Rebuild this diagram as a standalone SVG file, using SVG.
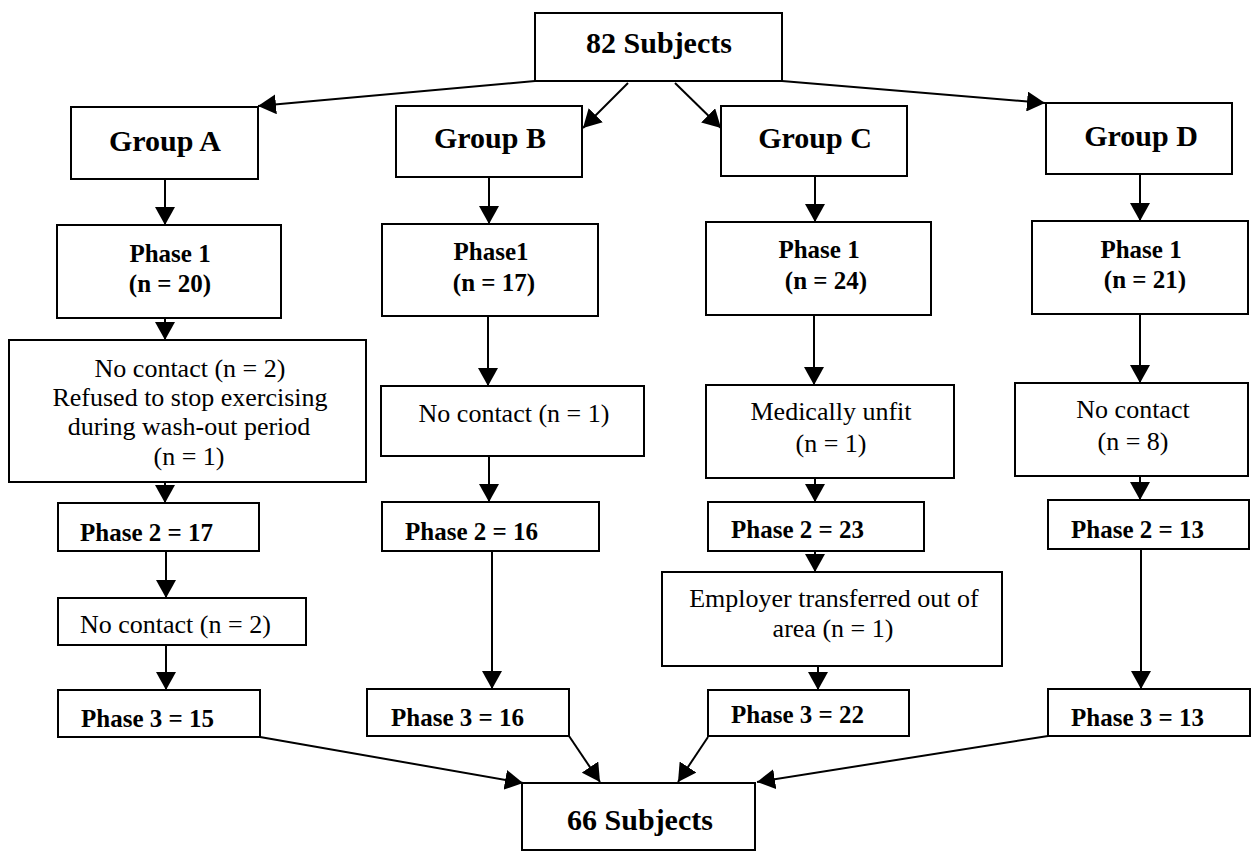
<svg xmlns="http://www.w3.org/2000/svg" width="1252" height="854" viewBox="0 0 1252 854">
<style>
.box{fill:#fff;stroke:#000;stroke-width:2}
.big{font-family:"Liberation Serif","Times New Roman",serif;font-weight:bold;font-size:30px;fill:#000;text-anchor:middle}
.ph{font-family:"Liberation Serif","Times New Roman",serif;font-weight:bold;font-size:25px;fill:#000}
.mid{text-anchor:middle}
.reg{font-family:"Liberation Serif","Times New Roman",serif;font-size:26px;fill:#000;text-anchor:middle}
.con line{stroke:#000;stroke-width:2;marker-end:url(#ah)}
</style>
<defs>
<marker id="ah" viewBox="0 0 18 20" refX="18" refY="10" markerWidth="18" markerHeight="20" markerUnits="userSpaceOnUse" orient="auto">
<path d="M0,0 L18,10 L0,20 z" fill="#000"/>
</marker>
</defs>
<rect width="1252" height="854" fill="#fff"/>
<g id="connectors" class="con">
<line x1="535" y1="81" x2="258" y2="106"/>
<line x1="628" y1="83" x2="583" y2="128"/>
<line x1="675" y1="83" x2="721" y2="128"/>
<line x1="782" y1="81" x2="1045" y2="103"/>
<line x1="165" y1="179" x2="165" y2="225"/>
<line x1="489" y1="177" x2="489" y2="224"/>
<line x1="815" y1="176" x2="815" y2="222"/>
<line x1="1140" y1="174" x2="1140" y2="221"/>
<line x1="165" y1="318" x2="165" y2="340"/>
<line x1="165" y1="482" x2="165" y2="503"/>
<line x1="166" y1="551" x2="166" y2="598"/>
<line x1="166" y1="645" x2="166" y2="690"/>
<line x1="488" y1="316" x2="488" y2="386"/>
<line x1="489" y1="456" x2="489" y2="502"/>
<line x1="492" y1="551" x2="492" y2="689"/>
<line x1="814" y1="315" x2="814" y2="385"/>
<line x1="815" y1="478" x2="815" y2="502"/>
<line x1="815" y1="551" x2="815" y2="572"/>
<line x1="818" y1="666" x2="818" y2="690"/>
<line x1="1140" y1="314" x2="1140" y2="383"/>
<line x1="1140" y1="476" x2="1140" y2="500"/>
<line x1="1141" y1="549" x2="1141" y2="689"/>
<line x1="260" y1="737" x2="523" y2="783"/>
<line x1="569" y1="736" x2="600" y2="782"/>
<line x1="708" y1="737" x2="678" y2="782"/>
<line x1="1048" y1="736" x2="757" y2="782"/>
</g>
<g id="n82"><rect class="box" x="535" y="13" width="247" height="68"/><text class="big" x="659" y="53">82 Subjects</text></g>
<g id="gA"><rect class="box" x="71" y="107" width="187" height="72"/><text class="big" x="165" y="151">Group A</text></g>
<g id="gB"><rect class="box" x="396" y="106" width="186" height="71"/><text class="big" x="490" y="148">Group B</text></g>
<g id="gC"><rect class="box" x="721" y="106" width="186" height="70"/><text class="big" x="815" y="148">Group C</text></g>
<g id="gD"><rect class="box" x="1046" y="103" width="186" height="71"/><text class="big" x="1141" y="146">Group D</text></g>
<g id="p1A"><rect class="box" x="57" y="225" width="224" height="93"/><text class="ph mid" x="170" y="262">Phase 1</text><text class="ph mid" x="170" y="292">(n = 20)</text></g>
<g id="p1B"><rect class="box" x="382" y="224" width="216" height="92"/><text class="ph mid" x="491" y="260">Phase1</text><text class="ph mid" x="494" y="291">(n = 17)</text></g>
<g id="p1C"><rect class="box" x="706" y="222" width="225" height="93"/><text class="ph mid" x="819" y="258">Phase 1</text><text class="ph mid" x="826" y="289">(n = 24)</text></g>
<g id="p1D"><rect class="box" x="1032" y="221" width="216" height="93"/><text class="ph mid" x="1141" y="258">Phase 1</text><text class="ph mid" x="1145" y="288">(n = 21)</text></g>
<g id="ncA"><rect class="box" x="9" y="340" width="357" height="142"/><text class="reg" x="190" y="377">No contact (n = 2)</text><text class="reg" x="190" y="406">Refused to stop exercising</text><text class="reg" x="189" y="435">during wash-out period</text><text class="reg" x="189" y="465">(n = 1)</text></g>
<g id="p2A"><rect class="box" x="58" y="503" width="201" height="48"/><text class="ph" x="80" y="541">Phase 2 = 17</text></g>
<g id="nc2A"><rect class="box" x="58" y="598" width="248" height="47"/><text class="reg" x="80" y="633" style="text-anchor:start">No contact (n = 2)</text></g>
<g id="p3A"><rect class="box" x="58" y="690" width="202" height="47"/><text class="ph" x="81" y="727">Phase 3 = 15</text></g>
<g id="ncB"><rect class="box" x="381" y="386" width="263" height="70"/><text class="reg" x="514" y="422">No contact (n = 1)</text></g>
<g id="p2B"><rect class="box" x="382" y="502" width="217" height="49"/><text class="ph" x="405" y="540">Phase 2 = 16</text></g>
<g id="p3B"><rect class="box" x="367" y="689" width="202" height="47"/><text class="ph" x="391" y="726">Phase 3 = 16</text></g>
<g id="muC"><rect class="box" x="706" y="385" width="248" height="93"/><text class="reg" x="831" y="420">Medically unfit</text><text class="reg" x="831" y="452">(n = 1)</text></g>
<g id="p2C"><rect class="box" x="708" y="502" width="216" height="49"/><text class="ph" x="731" y="538">Phase 2 = 23</text></g>
<g id="emC"><rect class="box" x="662" y="572" width="340" height="94"/><text class="reg" x="834" y="607">Employer transferred out of</text><text class="reg" x="833" y="637">area (n = 1)</text></g>
<g id="p3C"><rect class="box" x="708" y="690" width="201" height="46"/><text class="ph" x="731" y="723">Phase 3 = 22</text></g>
<g id="ncD"><rect class="box" x="1015" y="383" width="233" height="93"/><text class="reg" x="1133" y="418">No contact</text><text class="reg" x="1133" y="450">(n = 8)</text></g>
<g id="p2D"><rect class="box" x="1048" y="500" width="201" height="49"/><text class="ph" x="1071" y="538">Phase 2 = 13</text></g>
<g id="p3D"><rect class="box" x="1048" y="689" width="202" height="47"/><text class="ph" x="1071" y="726">Phase 3 = 13</text></g>
<g id="n66"><rect class="box" x="522" y="783" width="233" height="67"/><text class="big" x="640" y="830">66 Subjects</text></g>
</svg>
